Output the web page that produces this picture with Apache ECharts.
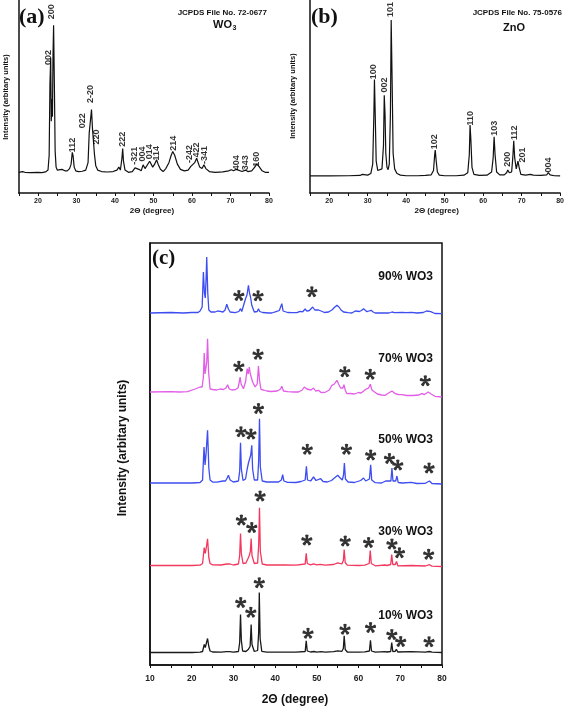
<!DOCTYPE html>
<html><head><meta charset="utf-8">
<script src="https://cdn.jsdelivr.net/npm/echarts@6/dist/echarts.min.js"></script>
<style>html,body{margin:0;padding:0;background:#fff}#c{width:567px;height:710px}</style>
</head><body><div id="c"></div>
<script>
// ---------- Panel (a): WO3 reference pattern [2theta, intensity] ----------
const wo3Pattern = [[15,0.5],[16,1],[16.3,1.5],[16.6,0.5],[18,0.3],[20,0.5],[21,0.3],[22,0.8],[22.6,2],[22.9,12],[23.1,60],[23.3,78],[23.45,35],[23.6,50],[23.75,38],[23.9,80],[24.05,100],[24.25,60],[24.45,15],[24.7,4],[25,2],[25.5,1.5],[26.2,2.5],[26.6,3],[27,1.5],[27.6,1.5],[28.2,3],[28.6,6],[28.9,14],[29.1,12],[29.4,4],[29.8,1.5],[30.5,1],[31.5,1.2],[32.4,2],[33,7],[33.3,27],[33.55,26],[33.9,43],[34.15,30],[34.45,20],[34.65,13],[35,5],[35.5,2],[36.5,1],[38,0.7],[39.5,1],[40.5,2],[41,4],[41.4,2],[41.8,10],[42.0,16.5],[42.2,8],[42.6,2],[43.5,0.5],[44.5,1],[45.2,3.5],[45.6,4.5],[46.2,2.5],[46.8,1.5],[47.3,5.5],[47.5,6.5],[47.8,3],[48.3,4],[49.0,8],[49.4,7],[49.8,4],[50.3,6],[50.8,9],[51.2,6],[51.8,2.5],[52.5,1],[53.2,3],[54,7],[54.6,12],[55.0,14.5],[55.5,12],[56.2,6],[57,2.5],[58,1.5],[59,2],[59.7,4.5],[60.2,5],[60.7,7],[61.2,10],[61.5,9],[62,4],[62.6,3],[63.1,5.5],[63.6,3],[64.5,1],[66,0.5],[68,0.8],[69.5,1.5],[70.2,2.2],[70.8,1.5],[71.5,2.5],[72,1.5],[73,1],[73.9,2],[74.5,1],[75.5,1.5],[76.3,4],[76.8,6],[77.4,4.5],[78.2,1.5],[79,0.5],[80,0.5]];
const wo3HklNames = ['002','200','112','022','2-20','220','222','-321','004','014','114','214','-242','422','-341','404','343','160'];
const wo3HklAt = [[22.78,78.2],[23.64,109],[29.01,18.9],[31.61,35.3],[33.77,53.4],[35.25,24.3],[41.9,22.8],[45.12,11.7],[47.19,12.8],[48.9,14.4],[50.73,13.3],[55.14,20.1],[59.3,12.8],[61.22,15.5],[63.2,12.2],[71.69,7],[74.03,7],[76.7,9.3]];

// ---------- Panel (b): ZnO reference pattern ----------
const znoPattern = [[15,0.5],[20,0.5],[25,0.6],[28,0.8],[28.6,1.5],[29,0.8],[30,1],[30.8,2],[31.3,8],[31.6,40],[31.75,62],[31.95,40],[32.2,10],[32.6,4],[33.1,3],[33.7,5],[34.1,20],[34.3,52],[34.5,40],[34.7,15],[35.0,6],[35.3,4.5],[35.6,8],[35.9,40],[36.1,100],[36.35,60],[36.6,15],[37,5],[37.6,2],[38.5,1],[40,0.6],[43,0.6],[45,0.8],[46.5,1.2],[47.1,4],[47.4,14],[47.55,17],[47.8,10],[48.1,3],[48.6,1],[50,0.6],[53,0.6],[55,1],[56,2.5],[56.4,14],[56.6,33],[56.8,24],[57.1,6],[57.6,1.5],[59,0.8],[61,1],[62.2,3],[62.6,12],[62.85,25.5],[63.1,14],[63.5,3],[64.3,1.2],[65.5,1.2],[66.1,2.5],[66.4,4.3],[66.8,2.5],[67.4,3],[67.7,12],[67.95,23],[68.2,12],[68.6,5],[69.05,10],[69.35,6],[69.8,1.5],[71,1],[72.3,1.5],[72.6,2.1],[73,1],[75,0.8],[76.5,1.2],[76.95,2.6],[77.4,1.2],[78.5,0.6],[80,0.5]];
const znoHklNames = ['100','002','101','102','110','103','200','112','201','004'];
const znoHklAt = [[31.5,67],[34.25,58.5],[35.98,106.8],[47.38,22.3],[56.63,37.3],[62.85,30.9],[66.22,11.1],[68.19,28.1],[70.36,13.8],[77.0,7.5]];

// ---------- Panel (c): composites ----------
const sampleNames = ['10% WO3','30% WO3','50% WO3','70% WO3','90% WO3'];
const pattern10 = [[10,0],[15,0],[20,0],[22,0.3],[22.6,1],[23.0,8],[23.25,5],[23.5,7],[23.8,14],[24.1,6],[24.4,1.5],[25,0.5],[27,0.4],[28.3,0.8],[28.7,1.7],[29.1,0.8],[30,0.3],[31.2,1],[31.5,10],[31.7,38],[31.9,12],[32.2,1.5],[33,1],[33.6,3.3],[34.0,6],[34.25,28],[34.45,8],[35,1],[35.8,2],[36.05,20],[36.2,60],[36.4,14],[36.8,1.2],[38,0.3],[41.5,0.3],[41.9,1.2],[42.3,0.3],[45,0.3],[47.2,1],[47.45,11.7],[47.7,1.5],[48.5,0.5],[49.3,1],[50,0.4],[51,0.8],[52,0.3],[54,0.8],[55,1.7],[56,1.2],[56.35,4],[56.55,16.7],[56.8,3],[57.3,0.5],[60,0.3],[61.5,0.6],[62.6,1.5],[62.85,12.3],[63.1,1.5],[64,0.3],[66.3,0.8],[66.5,1.7],[66.8,0.5],[67.7,1],[67.95,10],[68.2,1],[68.8,1.2],[69.05,3.3],[69.4,0.5],[72.6,0.8],[73,0.3],[76,0.3],[77,1],[77.6,0.3],[80,0]];
const pattern30 = [[10,0],[15,0],[20,0],[22,0.3],[22.6,2],[23.0,18],[23.25,12],[23.5,18],[23.8,26.7],[24.1,8],[24.4,2],[25,0.6],[27,0.5],[28.4,1.5],[28.8,3.3],[29.2,1.5],[30,0.5],[31.2,1.5],[31.5,10],[31.7,32],[31.9,12],[32.3,2],[33,2.5],[33.5,7],[33.8,10],[34.05,14],[34.25,27],[34.45,10],[35,2],[35.8,2.5],[36.05,20],[36.25,57.7],[36.45,14],[36.9,1.5],[38,0.5],[41.5,0.5],[41.9,2.3],[42.3,0.5],[45,0.3],[47.2,1.5],[47.45,12.3],[47.7,2],[48.5,0.6],[49.2,1.7],[50,0.6],[50.8,1.2],[52,0.3],[54,1],[55,2.7],[56,1.5],[56.35,5],[56.55,16],[56.8,3],[57.3,0.3],[60,0],[61.5,0.3],[62.55,2],[62.8,15],[63.05,2],[64,-0.3],[66.3,0.5],[66.5,2],[66.8,0],[67.7,1],[67.95,11],[68.2,1],[68.8,1],[69.1,4],[69.4,-0.3],[72.6,0],[73,-0.5],[76,-0.5],[77,0.8],[77.6,-0.6],[80,-1]];
const pattern50 = [[10,0],[15,0],[20,0],[22,0.5],[22.6,3],[22.95,36],[23.2,18],[23.45,30],[23.8,52.7],[24.1,15],[24.4,3],[25,1],[26,0.8],[27.5,2],[27.8,3.7],[28.1,2],[28.5,5],[28.8,7.7],[29.2,3],[30,1],[31.2,2],[31.5,12],[31.7,40.3],[31.9,14],[32.3,2.5],[32.9,4],[33.3,14],[33.6,20],[33.9,18],[34.15,28],[34.4,37.7],[34.6,14],[35,3],[35.8,3],[36.05,22],[36.25,64.3],[36.45,16],[36.9,2],[38,1],[40.8,1],[41.5,3],[41.8,8.3],[42.1,2],[43,0.6],[45,0.5],[46.2,1.5],[47.2,3],[47.5,16.7],[47.75,3],[48.5,2],[49.2,6],[49.8,2.5],[50.9,4.3],[51.5,1.5],[52.5,1],[53.5,2.5],[54.5,6],[55.0,7.7],[55.6,5],[56.1,3],[56.4,8],[56.6,20],[56.85,4],[57.5,1],[59,0.5],[60.5,2.5],[61.2,5],[61.7,2],[62.6,4],[62.9,18.3],[63.15,3],[64,0.3],[65.5,0],[66.5,2],[66.9,0],[67.75,2],[68.0,15],[68.25,2],[68.9,2],[69.2,7],[69.5,0.5],[70.5,0],[72.6,0.6],[74,-0.5],[76,-0.3],[77,2],[77.6,-0.5],[80,-1]];
const pattern70 = [[10,0],[15,0.3],[17,0],[19,0.3],[20.8,3],[22,5],[22.5,5],[22.8,15],[23.0,39],[23.2,18],[23.4,16],[23.6,30],[23.8,53.3],[24.05,20],[24.4,3],[25,2.5],[26,2],[26.8,3],[27.2,5],[27.6,2.5],[28.2,4],[28.6,7.3],[29,3],[29.6,2],[30.4,2.3],[31.1,4],[31.4,10],[31.6,15],[31.85,8],[32.4,3.3],[32.9,10],[33.3,23.3],[33.55,18],[33.8,25],[34.05,18],[34.25,20],[34.6,10],[35.2,5],[35.7,8],[36.0,26],[36.25,12],[36.6,2.7],[37.2,2],[37.6,3.3],[38,1],[39,0.5],[40.5,1],[41.3,3],[41.6,5.7],[42,1],[43,0.3],[44.5,0],[45.6,0],[46.5,2],[47.0,5],[47.3,6.7],[47.6,3],[48.0,5],[48.6,2],[49.2,4],[49.7,1],[50.4,1.7],[51,-0.5],[52,-0.3],[53,2],[53.6,6.7],[54.2,8],[54.8,11.7],[55.2,8],[55.7,4],[56.0,3.3],[56.25,4],[56.5,7.3],[56.8,2],[57.2,-1.7],[58,-1.5],[59,-2],[60,-0.5],[60.6,-1],[61.6,2.3],[62.4,4],[62.8,7.7],[63.2,2],[63.6,0.7],[64.5,-2],[65.5,-3],[66.4,-3.3],[67.2,-1],[68.0,1],[68.4,-1],[68.8,-1.7],[69.5,-2.5],[70.4,-2.7],[71.5,-3.5],[73,-3.5],[74.5,-3],[75.1,-1.7],[75.8,-2.5],[76.7,0],[77.4,-2],[78.3,-4.3],[80,-5]];
const pattern90 = [[10,0],[15,0.5],[18,0],[20,0.5],[21.5,0.5],[22.0,2],[22.5,6],[22.8,41],[23.05,20],[23.25,15],[23.45,35],[23.6,56],[23.85,20],[24.1,3],[24.6,1],[25.6,1],[26.2,2],[26.8,1.7],[27.5,1],[28.0,3],[28.4,8.7],[28.8,4],[29.2,1],[30.4,0.3],[31.3,1.5],[31.7,4.3],[32.0,1.5],[32.4,3],[32.9,14.3],[33.25,18],[33.6,27.7],[33.85,20],[34.1,16],[34.4,7.7],[35.0,1],[35.7,1.5],[36.0,4.3],[36.3,1.5],[37,0.5],[38.5,0],[39.2,0],[40.4,1.7],[41.0,2.5],[41.6,9.3],[41.9,2],[43,0.5],[44,0.3],[45.2,0.3],[46.0,1.7],[46.6,1.2],[47.2,4],[47.6,1.8],[48.2,2.5],[49.0,6],[49.5,3],[49.8,2],[50.4,3],[50.8,4.3],[51.3,1.5],[51.8,0.5],[52.8,1],[53.6,3],[54.2,5.5],[54.8,7.7],[55.3,6],[55.8,3],[56.4,1],[57.5,0.3],[58.4,0],[59.2,2],[59.6,2.7],[60.2,1.5],[60.7,2.5],[61.2,4.3],[61.6,2.5],[62.0,1.3],[62.5,2],[63.0,2.7],[63.5,1],[64.0,0],[65,0],[67.3,0],[68.0,1],[68.6,0.3],[70.4,0.7],[71.5,0.3],[72.7,0.7],[74,0],[75.5,0.5],[76.3,2],[76.7,2.7],[77.3,1.3],[78.3,-0.5],[80,-0.7]];
// ZnO markers (*) : [2theta, height above baseline]
const stars10 = [[31.75,50],[34.17,40.2],[36.2,69.8],[47.88,19.2],[56.75,23.2],[62.87,25],[67.97,18],[70.1,11],[76.9,10.8]];
const stars30 = [[31.9,45.5],[34.4,38],[36.4,69.5],[47.6,25.5],[56.8,24.5],[62.4,23],[68.0,21.5],[69.8,12.8],[76.8,11.2]];
const stars50 = [[31.8,51.3],[34.2,49],[36.0,74.5],[47.7,33.7],[57.1,33.7],[62.9,28],[67.4,24.5],[69.4,18],[76.9,15]];
const stars70 = [[31.3,25.7],[35.9,37.7],[56.7,20.3],[62.8,17.8],[76.0,11.3]];
const stars90 = [[31.3,17.5],[35.9,17.3],[48.8,21.3]];

// ---------- layout / style ----------
const patterns = [pattern10, pattern30, pattern50, pattern70, pattern90];
const starSets = [stars10, stars30, stars50, stars70, stars90];
const offsets = [12.5, 99.5, 182, 273, 352];
const colors = ['#1a1a1a', '#f2385e', '#3d4df0', '#e25ee6', '#3d4df0'];
const nameY = [615.7, 531.7, 439.3, 358.3, 277];
const FONT = 'Liberation Sans, Arial, sans-serif';
const SERIF = 'Liberation Serif, Times New Roman, serif';

// bold 5-armed asterisk glyph (tapered arms)
function asteriskPath() {
  const arm = [[-0.12, 0.12], [0.12, 0.12], [0.3, -0.92], [0, -1.02], [-0.3, -0.92]];
  let d = '';
  for (let k = 0; k < 5; k++) {
    const a = k * 2 * Math.PI / 5, c = Math.cos(a), s = Math.sin(a);
    arm.forEach((p, j) => {
      const x = p[0] * c - p[1] * s, y = p[0] * s + p[1] * c;
      d += (j === 0 ? 'M' : 'L') + x.toFixed(3) + ',' + y.toFixed(3);
    });
    d += 'Z';
  }
  return 'path://' + d;
}
const starSymbol = asteriskPath();

function xAx(gi, min, lblSize, margin) {
  return {
    gridIndex: gi, type: 'value', min: min, max: 80, interval: 5,
    axisLine: { onZero: false, lineStyle: { color: '#111', width: 1.5 } },
    axisTick: { show: true, inside: false, length: 3, lineStyle: { color: '#111', width: 1 } },
    splitLine: { show: false },
    axisLabel: { margin: margin, color: '#222', fontFamily: FONT, fontWeight: 'bold', fontSize: lblSize,
      formatter: v => (v % 10 === 0 ? String(v) : '') }
  };
}
function yAx(gi, min, max) {
  return {
    gridIndex: gi, type: 'value', min: min, max: max,
    axisLine: { show: true, onZero: false, lineStyle: { color: '#111', width: 1.5 } },
    axisTick: { show: false }, axisLabel: { show: false }, splitLine: { show: false }
  };
}
function hklSeries(xi, names, at) {
  return {
    type: 'scatter', xAxisIndex: xi, yAxisIndex: xi, symbolSize: 1,
    itemStyle: { color: 'rgba(0,0,0,0)' },
    data: at.map((p, i) => ({ value: p, name: names[i] })),
    label: { show: true, position: 'inside', rotate: 90, formatter: '{b}', color: '#000',
      fontFamily: FONT, fontWeight: 'bold', fontSize: 9, align: 'center', verticalAlign: 'middle' },
    silent: true, z: 5
  };
}

const series = [
  { type: 'line', xAxisIndex: 0, yAxisIndex: 0, data: wo3Pattern, showSymbol: false,
    lineStyle: { color: '#111', width: 1.2 }, silent: true },
  { type: 'line', xAxisIndex: 1, yAxisIndex: 1, data: znoPattern, showSymbol: false,
    lineStyle: { color: '#111', width: 1.2 }, silent: true },
  hklSeries(0, wo3HklNames, wo3HklAt),
  hklSeries(1, znoHklNames, znoHklAt)
];
patterns.forEach((pat, i) => {
  series.push({ type: 'line', xAxisIndex: 2, yAxisIndex: 2, showSymbol: false, silent: true,
    name: sampleNames[i], data: pat.map(p => [p[0], p[1] + offsets[i]]),
    lineStyle: { color: colors[i], width: 1.3 } });
  series.push({ type: 'scatter', xAxisIndex: 2, yAxisIndex: 2, silent: true, symbol: starSymbol,
    symbolSize: 11, symbolKeepAspect: true, itemStyle: { color: '#000' },
    data: starSets[i].map(p => [p[0], p[1] + offsets[i]]) });
});

const txt = (x, y, text, size, opts) => Object.assign({
  type: 'text', x: x, y: y, silent: true,
  style: Object.assign({ text: text, fill: '#111', font: 'bold ' + size + 'px ' + FONT,
    textAlign: 'left', textVerticalAlign: 'middle' }, (opts && opts.style) || {})
}, opts && opts.rotation ? { rotation: opts.rotation } : {});

const graphic = [
  txt(19, 17, '(a)', 22, { style: { font: 'bold 22px ' + SERIF } }),
  txt(311, 17, '(b)', 22, { style: { font: 'bold 22px ' + SERIF } }),
  txt(152, 258.5, '(c)', 21, { style: { font: 'bold 21px ' + SERIF } }),
  txt(267, 13, 'JCPDS File No. 72-0677', 8, { style: { textAlign: 'right' } }),
  txt(562, 13, 'JCPDS File No. 75-0576', 8, { style: { textAlign: 'right' } }),
  txt(213, 25, 'WO', 11),
  txt(232.5, 28.5, '3', 7),
  txt(503, 28, 'ZnO', 11),
  txt(5.5, 97, 'Intensity (arbitary units)', 7.5, { rotation: Math.PI / 2, style: { textAlign: 'center' } }),
  txt(293, 96, 'Intensity (arbitary units)', 7.5, { rotation: Math.PI / 2, style: { textAlign: 'center' } }),
  txt(123, 448, 'Intensity (arbitary units)', 12, { rotation: Math.PI / 2, style: { textAlign: 'center' } }),
  txt(152, 211, '2\u0398 (degree)', 8, { style: { textAlign: 'center' } }),
  txt(436.7, 211, '2\u0398 (degree)', 8, { style: { textAlign: 'center' } }),
  txt(295, 700, '2\u0398 (degree)', 12, { style: { textAlign: 'center' } })
];
sampleNames.forEach((n, i) => graphic.push(txt(433, nameY[i], n, 12, { style: { textAlign: 'right' } })));

const chart = echarts.init(document.getElementById('c'), null, { renderer: 'canvas' });
chart.setOption({
  animation: false,
  backgroundColor: '#fff',
  grid: [
    { left: 18.75, top: 0, width: 250.25, height: 193 },
    { left: 310, top: 0, width: 251, height: 193 },
    { left: 150, top: 243, width: 292, height: 422, show: true, borderColor: '#111', borderWidth: 1.5 }
  ],
  xAxis: [xAx(0, 15, 7, 5), xAx(1, 15, 7, 5), xAx(2, 10, 8.5, 9)],
  yAxis: [yAx(0, -13.5, 117), yAx(1, -10.4, 112.8), yAx(2, 0, 422)],
  series: series,
  graphic: graphic
});
</script></body></html>
